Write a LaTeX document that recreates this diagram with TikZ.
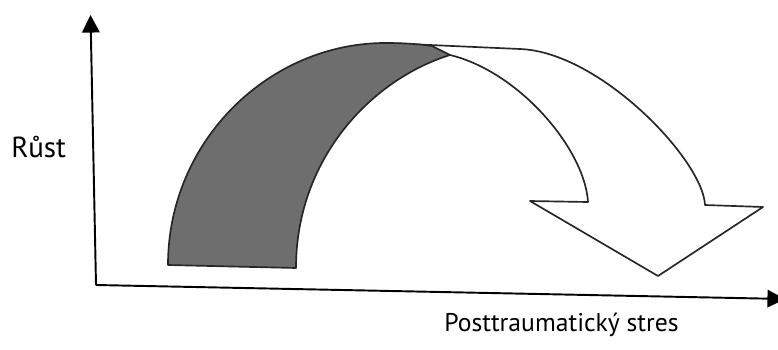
\documentclass[tikz,border=0pt]{standalone}
\usepackage{fontspec}
\setmainfont{PT Sans}
\usetikzlibrary{arrows.meta}

\tikzset{
  axis/.style={line width=1.1pt, -{Triangle[length=10pt,width=10pt]}},
  outline/.style={line width=0.95pt, draw=black!85, line join=round},
}

\begin{document}
\begin{tikzpicture}[x=0.02cm,y=-0.02cm]
\useasboundingbox (0,0) rectangle (778,349);
% axes
\coordinate (origin) at (96,285);
\coordinate (ytip) at (90.5,15);
\coordinate (xtip) at (785,299);
\draw[axis] (origin) -- (ytip);
\draw[axis] (origin) -- (xtip);
% white arrow
\draw[outline,fill=white] (385,43) -- (520,49) .. controls (600,52) and (703,160) .. (705,205)
  -- (763,207) -- (658,276) -- (530,201) -- (588,202) .. controls (585,150) and (520,72) .. (450,55);
% grey band
\draw[outline,fill=black!57] (168,265) .. controls (168,140) and (270,43) .. (385,43)
  .. controls (410,43) and (425,45) .. (432,46) -- (450,55)
  .. controls (370,80) and (296,160) .. (296,268) -- cycle;
% labels
\node[anchor=base west,inner sep=0,font=\fontsize{16.5}{18}\selectfont] (rust) at (11,157) {Růst};
\node[anchor=base west,inner sep=0,font=\fontsize{14.6}{17}\selectfont] (stres) at (444,331) {Posttraumatický stres};
\end{tikzpicture}
\end{document}
